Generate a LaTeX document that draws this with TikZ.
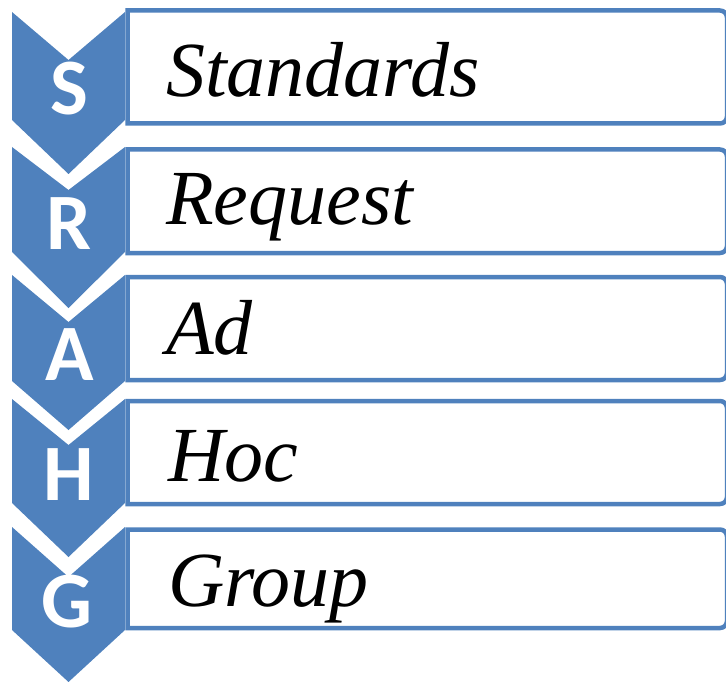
\documentclass[tikz,border=0pt]{standalone}
\usepackage{fontspec}
\setmainfont{Liberation Serif}
\newfontfamily\letterfont{Carlito}
\definecolor{accentblue}{HTML}{4F81BD}
\begin{document}
\begin{tikzpicture}[x=1pt,y=-1pt,
  chevron/.style={fill=accentblue,draw=none},
  listbox/.style={draw=accentblue,line width=4.5pt,fill=white},
  letter/.style={text=white,font=\letterfont\bfseries\fontsize{80}{80}\selectfont,anchor=base,inner sep=0pt},
  label/.style={text=black,font=\itshape\fontsize{78}{78}\selectfont,anchor=base west,inner sep=0pt}]
\useasboundingbox (0,0) rectangle (726,682);
% boxes
\foreach \t/\b in {10.5/123.5,149.5/253,277/380,401/504,529.5/628}{
  \draw[listbox] (127.5,\t) -- (690,\t) [rounded corners=7pt] -- (727,\t) -- (727,\b) -- (690,\b) [sharp corners] -- (127.5,\b) -- cycle;
}
% chevrons
\foreach \t/\n/\s/\p in {12/60/120/174,147/190/252/308,275/322/381/430,399/445/503/557,527/577/630/682}{
  \fill[chevron] (12,\t) -- (68.5,\n) -- (125,\t) -- (125,\s) -- (68.5,\p) -- (12,\s) -- cycle;
}
% letters
\node[letter] (ls) at (69,115) {S};
\node[letter] (lr) at (69,249) {R};
\node[letter] (la) at (70,380) {A};
\node[letter] (lh) at (69,500) {H};
\node[letter] (lg) at (67,627) {G};
% labels
\node[label] (t1) at (166,97) {Standards};
\node[label] (t2) at (166,224) {Request};
\node[label] (t3) at (166,354) {Ad};
\node[label] (t4) at (168,481) {Hoc};
\node[label] (t5) at (168,606) {Group};
\end{tikzpicture}
\end{document}
